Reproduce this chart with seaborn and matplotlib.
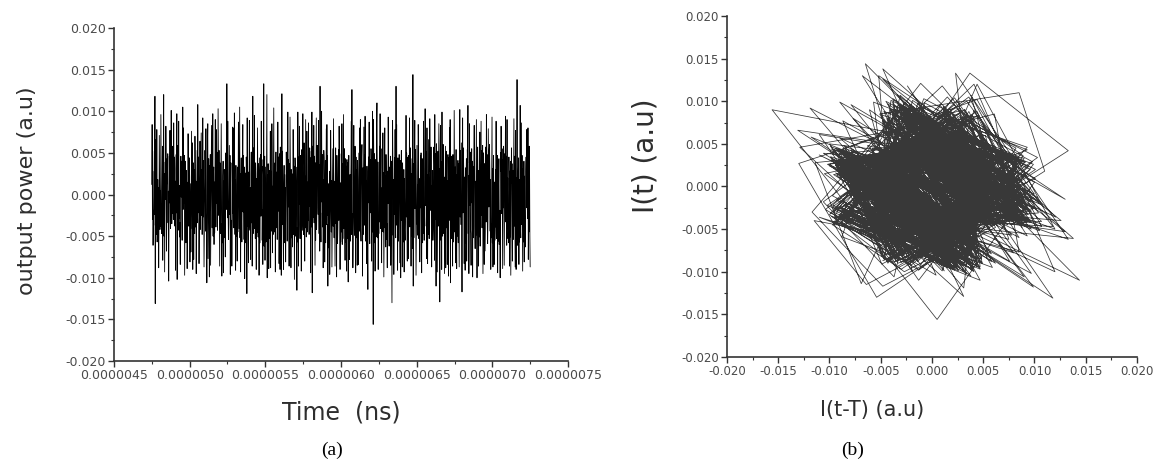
import numpy as np
import pandas as pd
import matplotlib
matplotlib.use("Agg")
import matplotlib.pyplot as plt
from matplotlib.ticker import MultipleLocator, FormatStrFormatter
import seaborn as sns

# Recorded output power, in units of 1e-4 a.u., evenly sampled in time
power_e4 = [
    12, 84, -30, 28, -61, -19, -37, 7, 52, -24, 118, -131, 66, 31, -9, -48, 78, -57, -35, 18,
    -33, 8, -88, -26, 71, 14, -42, 5, -38, 96, 20, -47, -11, -29, 58, -79, 17, 44, 120, -50,
    25, -93, -16, 39, -6, 82, 30, -68, -21, 43, 13, 49, -34, 4, -104, -27, 46, -10, 77, -32,
    -41, -19, 101, 9, -35, 50, -23, 58, -14, -30, 86, 6, 45, -27, -38, 16, -91, 31, 48, -22,
    97, -102, 26, 59, -43, -18, 88, -29, 11, -51, -34, -84, 20, 46, -3, 40, -24, -55, 15, 105,
    -18, 80, 36, -10, 47, -97, -24, 40, 7, -58, 29, -44, 15, -89, -33, -21, 73, 5, -38, 27,
    44, 21, -81, 13, -35, -69, -26, 76, 9, -41, 62, -90, 17, 38, -78, -3, 30, -47, 70, 24,
    -39, 16, -95, -28, 8, 53, -34, 108, -22, 45, 11, -83, -31, -19, 64, -42, 6, 36, 74, -25,
    30, -48, -12, 92, -27, 41, 5, -87, -36, 20, 53, 14, -44, 79, -23, -37, -106, -18, 61, 85,
    -77, -24, 43, 10, -99, 35, -19, 48, -85, -31, 7, 83, 26, -40, -14, 97, -50, 22, 33, -60,
    15, -46, 32, 90, -20, -39, 78, -11, 51, -28, -43, -8, 103, 34, -25, 53, -17, -86, 38, 4,
    -47, 26, 85, -13, -98, -35, -58, 22, 40, -94, 16, -52, 30, -45, -9, -75, 27, 50, -18, 37,
    133, 42, -28, 88, -19, -54, -36, 11, 59, -24, 47, -96, 14, 38, -56, -31, -86, -44, -21, 81,
    -23, 79, -40, -7, 98, 29, -48, 18, -91, 35, 12, -50, -27, -80, 33, -45, 6, 87, 20, -41,
    36, 105, -52, 25, -93, 13, 44, -30, -57, 9, 39, 84, -21, 47, -16, -54, 33, -101, 26, -42,
    -58, -17, 45, 31, -119, 92, -38, 20, -49, -82, 27, 11, 89, -36, -43, 8, -78, 24, 51, -34,
    29, -86, 10, 118, -47, -35, 56, -22, 95, -41, -14, -53, 38, 25, -90, 19, -46, -32, 80, 5,
    -51, 37, 20, -97, 44, -15, -58, 30, 48, -26, 88, -9, 42, -55, -18, -84, 34, 23, 133, -62,
    19, 46, -79, 33, -12, -57, -27, 41, 120, -100, 24, -50, 37, 15, -89, -43, 29, -53, -8, 76,
    -88, 28, -44, -17, 85, 35, -70, 10, -48, 22, 104, -31, -45, -6, 38, -93, 25, 51, 13, -40,
    27, -54, -38, 87, -20, 45, 14, -83, -32, 49, -90, 57, -23, 40, -97, -11, 121, -36, 52, -18,
    -43, -90, 12, 35, -58, 24, -47, 8, -81, -30, 51, 19, 40, -56, -27, 99, -15, 42, 33, -86,
    37, -21, 93, 46, -14, -88, 30, -52, 25, -41, -63, -17, 78, 9, -48, 34, -102, -22, 44, 28,
    -50, 33, 16, -64, -115, -40, -57, 99, 26, -86, 45, -12, 82, -36, -53, -20, 47, 31, -92, 38,
    54, 10, -43, 97, -29, -48, -18, 62, 35, -80, 22, -40, 90, 13, -51, -33, 76, -26, -45, 15,
    -31, 86, -20, -48, 37, 56, -14, 44, -94, 25, 52, -39, 99, -118, 58, -28, 42, 11, 83, -34,
    46, -19, -85, 38, -55, 27, 92, -42, -16, 59, 33, 50, -24, 89, -12, -47, 36, -68, 130, -53,
    -22, -57, 34, 100, -9, 48, -39, 18, -88, -30, 53, 44, 15, -81, -26, 41, -58, 7, 79, -36,
    84, -25, 47, -110, -36, -64, 13, -51, 28, -96, -41, -20, 77, 33, -45, 17, -87, -39, 24, 55,
    -38, 91, 29, -52, 16, -44, -86, 23, 56, -35, 12, -99, 47, -26, -59, -40, 20, 54, -31, 82,
    26, 49, -90, 14, -57, -32, -45, 10, 85, -60, 37, -53, 22, 96, -41, -18, 55, -30, -79, 43,
    -57, 34, -11, -92, 42, 20, -53, 38, -105, 15, 47, -29, -78, -43, 24, -56, 9, 36, 88, -48,
    126, -40, -23, -88, -59, 36, 83, -27, -49, 12, 58, 33, -94, 45, -19, -52, 30, -85, 41, -14,
    -35, -84, 18, 50, -44, 80, -27, 90, -39, -56, 21, 46, 60, -13, -98, 32, -48, 25, 81, -37,
    48, -30, 94, 23, -56, -41, 17, -83, 34, -52, -69, -114, 28, 45, -10, 87, -37, -59, 20, 42,
    -22, 55, 38, -80, 27, -45, 100, 5, -156, 90, 33, -58, 49, -20, -92, -36, 42, 14, -51, 85,
    110, 18, -52, 39, -90, -25, -47, 12, 58, -33, 97, -41, 20, 55, -36, -82, 8, -44, -27, 74,
    -45, 26, -99, -31, 14, 80, -40, 22, -63, 48, 17, -54, -35, -88, 28, -11, 93, 43, 19, -62,
    33, -58, -21, 46, -85, 12, 40, -54, -130, 27, 89, 36, -49, 18, -96, -30, 44, -24, 78, -39,
    -52, 130, -15, 84, -37, 23, -91, 44, -29, -56, 10, 48, 35, -82, -20, 41, -100, 26, 53, -31,
    24, -87, 38, 13, -57, -46, 30, -93, 19, -42, -55, -33, 8, 95, -27, 50, -36, -80, 16, 45,
    -77, 35, 47, -20, 92, -39, -14, 56, 31, -86, 25, -50, 43, -11, -65, 144, -110, 37, -52, 28,
    41, 89, -17, 54, -30, -97, -45, 22, 59, -36, 12, -49, 84, 27, -53, -40, 19, -81, -34, 47,
    -16, 50, -34, -94, 25, 43, -58, 9, -47, 88, 30, -55, -21, -38, 103, -13, 52, 28, 45, -77,
    80, -37, -83, 24, -48, 66, 15, -53, -40, 91, 28, 46, -19, 57, -33, -87, 11, -44, 29, -55,
    -42, -20, 57, 36, -79, 96, -30, 49, -13, -110, 61, 27, 44, -93, -23, 52, -38, 16, 85, -34,
    31, -129, 46, 83, -18, -55, 39, -90, 99, -26, -50, -14, 60, 35, -47, 21, -95, -43, 10, 58,
    -88, 29, 52, -40, 17, -84, -35, 48, 22, -98, 44, -12, 80, -31, 90, -106, 39, 25, -53, 46,
    35, 14, -86, 48, -26, -57, -40, 101, 20, -45, 33, -82, 11, 54, -38, -89, 24, -50, -16, 41,
    -58, 37, -19, -87, 44, 102, -27, 53, -36, 12, 62, -48, -117, -30, 92, -22, 56, 41, 18, -83,
    21, -49, -91, 32, -58, 15, 43, -80, -26, 54, 38, 107, -47, 23, -95, -35, 85, -13, 51, -40,
    -47, -85, 28, 55, -10, 40, -99, 34, -52, -19, 45, 83, 24, -38, -65, 16, -49, 32, 90, -27,
    -100, -33, 57, 20, -46, -86, 29, -51, 38, 75, -62, -17, 44, 88, -25, 53, -40, -11, 59, -95,
    -26, 50, 13, -84, 37, -68, -44, 22, 57, -33, 96, -18, 48, -40, -59, -29, 79, 36, -15, 52,
    60, 27, -44, 18, -90, -35, -52, 12, 93, -58, 31, -87, 23, 47, -39, -84, 15, -55, -41, 30,
    -39, 88, -21, -53, 32, 47, -94, 25, -56, 14, 43, -60, -36, -19, -100, 50, 28, 82, 45, -23,
    55, -30, -89, 42, -16, 58, 37, -85, -24, 49, 11, 94, -33, 46, -27, -61, 90, -40, 20, -53,
    -34, -58, 45, 19, -86, 28, -51, 40, -97, -22, 56, 14, 37, -80, -43, 29, -54, 17, 91, -38,
    46, -25, -87, 77, -33, -90, 20, -48, 138, -61, -36, -52, 27, 44, -84, 18, -57, -31, 107, -41,
    -52, 19, 86, -36, 47, -24, -92, 31, 13, -57, 40, -81, 22, -50, -35, -63, 28, 45, -16, 78,
    37, 54, -29, 80, -78, -16, -45, 58, 33, -48, -87,
]

# Sampling window (seconds) and delay used for the phase portrait (in samples)
t_start = 4.75e-6
t_end = 7.25e-6
delay_samples = 1

# Axis ranges and tick steps
time_ticks = [4.5e-6, 7.5e-6, 0.5e-6]
power_ticks = [-0.020, 0.020, 0.005]

power = np.asarray(power_e4, dtype=float) * 1e-4
time = np.linspace(t_start, t_end, power.size)
series = pd.DataFrame({"time": time, "power": power})
phase = pd.DataFrame({
    "delayed": power[:-delay_samples],
    "current": power[delay_samples:],
})

sns.set_theme(style="ticks")
plt.rcParams["font.family"] = ["DejaVu Sans"]
plt.rcParams["axes.unicode_minus"] = False

text_col = "#2e2e2e"
tick_col = "#4a4a4a"

fig = plt.figure(figsize=(11.63, 4.62), dpi=100)
fig.patch.set_facecolor("white")
ax1 = fig.add_axes([0.0980, 0.2186, 0.3904, 0.7208])
ax2 = fig.add_axes([0.6251, 0.2273, 0.3525, 0.7381])

# (a) time trace
sns.lineplot(data=series, x="time", y="power", ax=ax1, estimator=None,
             sort=False, color="black", linewidth=0.6)
ax1.set_xlim(time_ticks[0], time_ticks[1])
ax1.set_ylim(power_ticks[0], power_ticks[1])
ax1.xaxis.set_major_locator(MultipleLocator(time_ticks[2]))
ax1.xaxis.set_minor_locator(MultipleLocator(time_ticks[2] / 2))
ax1.xaxis.set_major_formatter(FormatStrFormatter("%.7f"))

# (b) delay-embedded phase portrait
sns.lineplot(data=phase, x="delayed", y="current", ax=ax2, estimator=None,
             sort=False, color="#383838", linewidth=0.55)
ax2.set_xlim(power_ticks[0], power_ticks[1])
ax2.set_ylim(power_ticks[0], power_ticks[1])
ax2.xaxis.set_major_locator(MultipleLocator(power_ticks[2]))
ax2.xaxis.set_minor_locator(MultipleLocator(power_ticks[2] / 2))
ax2.xaxis.set_major_formatter(FormatStrFormatter("%.3f"))

for ax, fs in ((ax1, 9), (ax2, 8.5)):
    ax.yaxis.set_major_locator(MultipleLocator(power_ticks[2]))
    ax.yaxis.set_minor_locator(MultipleLocator(power_ticks[2] / 2))
    ax.yaxis.set_major_formatter(FormatStrFormatter("%.3f"))
    sns.despine(ax=ax)
    for side in ("left", "bottom"):
        ax.spines[side].set_color("#333333")
        ax.spines[side].set_linewidth(1.2)
    ax.tick_params(which="major", direction="out", length=4, width=1.0,
                   color="#333333", labelsize=fs, labelcolor=tick_col, pad=2)
    ax.tick_params(which="minor", direction="out", length=2.5, width=0.8,
                   color="#333333")
    ax.set_facecolor("white")

ax1.set_xlabel("Time  (ns)", fontsize=17, color=text_col)
ax1.set_ylabel("output power (a.u)", fontsize=16, color=text_col)
ax1.xaxis.set_label_coords(0.5, -0.12)
ax1.yaxis.set_label_coords(-0.17, 0.51)

ax2.set_xlabel("I(t-T) (a.u)", fontsize=15, color=text_col)
ax2.set_ylabel("I(t) (a.u)", fontsize=20, color=text_col)
ax2.xaxis.set_label_coords(0.355, -0.125)
ax2.yaxis.set_label_coords(-0.165, 0.59)

fig.text(332 / 1163, 1 - 450 / 462, "(a)", ha="center", va="center",
         fontsize=14, family="Liberation Serif", color="black")
fig.text(853 / 1163, 1 - 450 / 462, "(b)", ha="center", va="center",
         fontsize=14, family="Liberation Serif", color="black")

fig.savefig("out.png", dpi=100, facecolor="white")
